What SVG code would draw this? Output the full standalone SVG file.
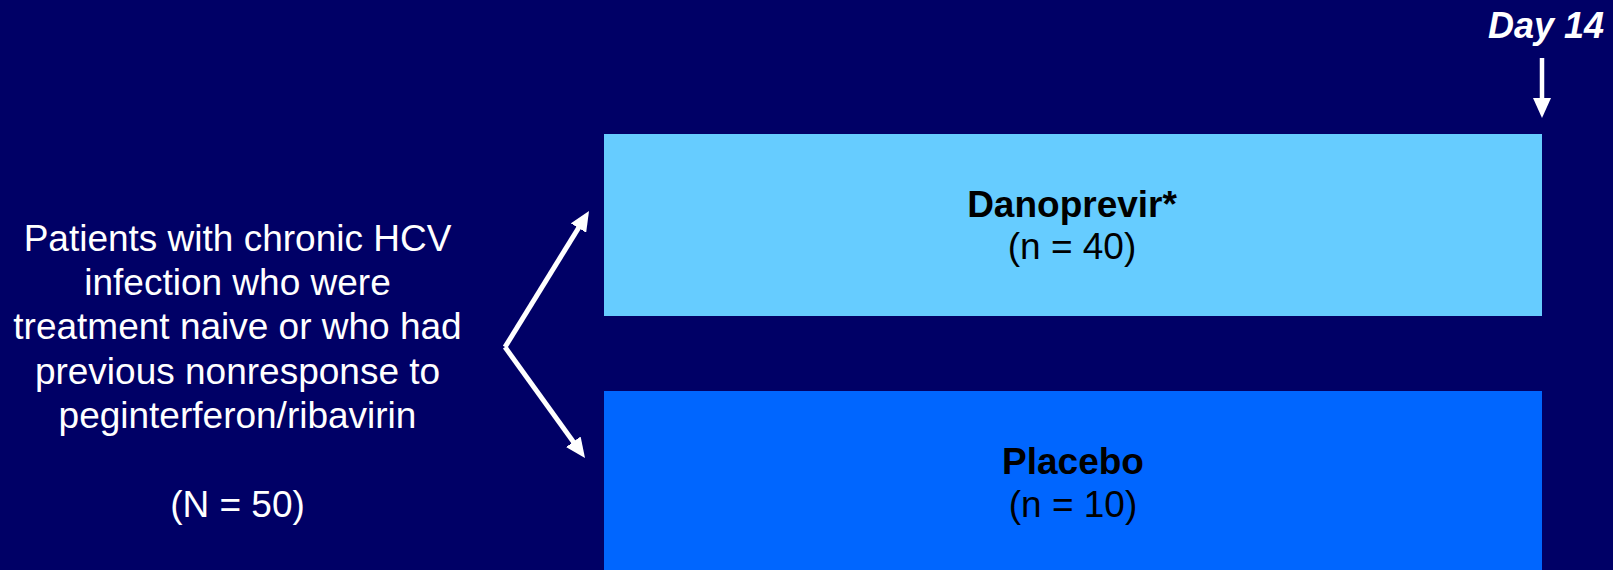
<svg xmlns="http://www.w3.org/2000/svg" width="1613" height="570" viewBox="0 0 1613 570">
<style>
.t{font-family:"Liberation Sans",Arial,sans-serif;font-size:37px;text-anchor:middle}
.w{fill:#ffffff}
.k{fill:#000000}
.b{font-weight:bold}
.conn{stroke:#ffffff;fill:none}
</style>
<defs>
<marker id="ah" viewBox="0 0 20 18" refX="10" refY="9" markerWidth="20" markerHeight="18" markerUnits="userSpaceOnUse" orient="auto">
<path d="M0,0 L20,9 L0,18 z" fill="#ffffff"/>
</marker>
</defs>
<rect width="1613" height="570" fill="#000066"/>
<g id="population">
<text class="t w" x="237.5" y="251">Patients with chronic HCV</text>
<text class="t w" x="237.5" y="295">infection who were</text>
<text class="t w" x="237.5" y="339">treatment naive or who had</text>
<text class="t w" x="237.5" y="384">previous nonresponse to</text>
<text class="t w" x="237.5" y="428">peginterferon/ribavirin</text>
<text class="t w" x="237.5" y="517">(N = 50)</text>
</g>
<g id="danoprevir">
<rect x="604" y="134" width="938" height="182" fill="#66CCFF"/>
<text class="t k b" x="1072" y="217">Danoprevir*</text>
<text class="t k" x="1072" y="259">(n = 40)</text>
</g>
<g id="placebo">
<rect x="604" y="391" width="938" height="179" fill="#0066FF"/>
<text class="t k b" x="1073" y="474">Placebo</text>
<text class="t k" x="1073" y="517">(n = 10)</text>
</g>
<g id="day14">
<text x="1604" y="38" font-family="Liberation Sans,Arial,sans-serif" font-size="36" font-weight="bold" font-style="italic" fill="#ffffff" text-anchor="end">Day 14</text>
</g>
<g id="connectors">
<path class="conn" stroke-width="5" stroke-linejoin="miter" d="M505,347 L583.75,219.5" marker-end="url(#ah)"/>
<path class="conn" stroke-width="5" d="M505,347 L579.15,449.9" marker-end="url(#ah)"/>
<line class="conn" stroke-width="4.5" x1="1542" y1="58" x2="1542" y2="108" marker-end="url(#ah)"/>
</g>
</svg>
